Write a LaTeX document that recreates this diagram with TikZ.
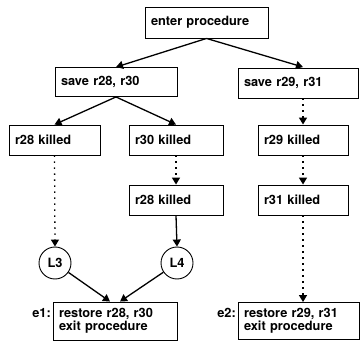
\documentclass[tikz,border=0pt]{standalone}
\usepackage{fontspec}
\setmainfont{TeX Gyre Heros}
\usetikzlibrary{arrows.meta,calc}
\begin{document}
\begin{tikzpicture}[x=1pt,y=-1pt,
  every node/.style={font=\bfseries\fontsize{12.8}{13.5}\selectfont},
  blk/.style={draw,line width=0.9pt,inner xsep=6pt,inner ysep=0pt,align=left,
    minimum height=#1,anchor=center},
  blk/.default=30pt,
  lbl/.style={draw,circle,line width=0.9pt,minimum size=32pt,inner sep=0pt},
  tip/.style={-{Triangle[length=7pt,width=8pt]}},
  flow/.style={tip,line width=1.3pt},
  maybe/.style={tip,line width=1.3pt,dash pattern=on 1.4pt off 4.6pt}]
\useasboundingbox (0,0) rectangle (361,347);

% boxes
\node[blk=31pt,text width=111pt] (enter) at (206.5,22.5) {enter procedure};
\node[blk=29pt,text width=110pt] (saveA) at (116,82) {save r28, r30};
\node[blk=30pt,text width=108pt] (saveB) at (298,83) {save r29, r31};
\node[blk,text width=79pt] (k28) at (54.5,140) {r28 killed};
\node[blk,text width=82pt] (k30) at (176,140) {r30 killed};
\node[blk,text width=78pt] (k29) at (303,140) {r29 killed};
\node[blk,text width=82pt] (k28b) at (176,200) {r28 killed};
\node[blk,text width=78pt] (k31) at (303,200) {r31 killed};
\node[lbl] (L3) at (55,263) {L3};
\node[lbl] (L4) at (177,263) {L4};
\node[blk=38pt,text width=112pt] (exitA) at (115,321) {restore r28, r30\\exit procedure};
\node[blk=37pt,text width=109pt] (exitB) at (298.5,321) {restore r29, r31\\exit procedure};
\node[anchor=east,inner sep=0pt] (eA) at (51,313) {e1:};
\node[anchor=east,inner sep=0pt] (eB) at (236,313) {e2:};

% connectors
\coordinate (inA) at ($(exitA.north)+(-5,0)$);
\coordinate (inB) at ($(exitA.north)+(5,0)$);
\draw[flow] (enter.south) -- (saveA.north);
\draw[flow] (enter.south) -- (saveA.north -| k29.north) ;
\draw[flow] (saveA.south) -- (k28.north);
\draw[flow] (saveA.south) -- (k30.north);
\draw[maybe] (saveB.south -| k29.north) -- (k29.north);
\draw[maybe] (k29.south) -- (k31.north);
\draw[maybe] (k30.south) -- (k28b.north);
\draw[maybe] (k28.south) -- (L3.north);
\draw[flow] (k28b.south) -- (L4.north);
\draw[maybe] (k31.south) -- (exitB.north -| k31.south);
\draw[flow] (L3) -- (inA);
\draw[flow] (L4) -- (inB);
\end{tikzpicture}
\end{document}
